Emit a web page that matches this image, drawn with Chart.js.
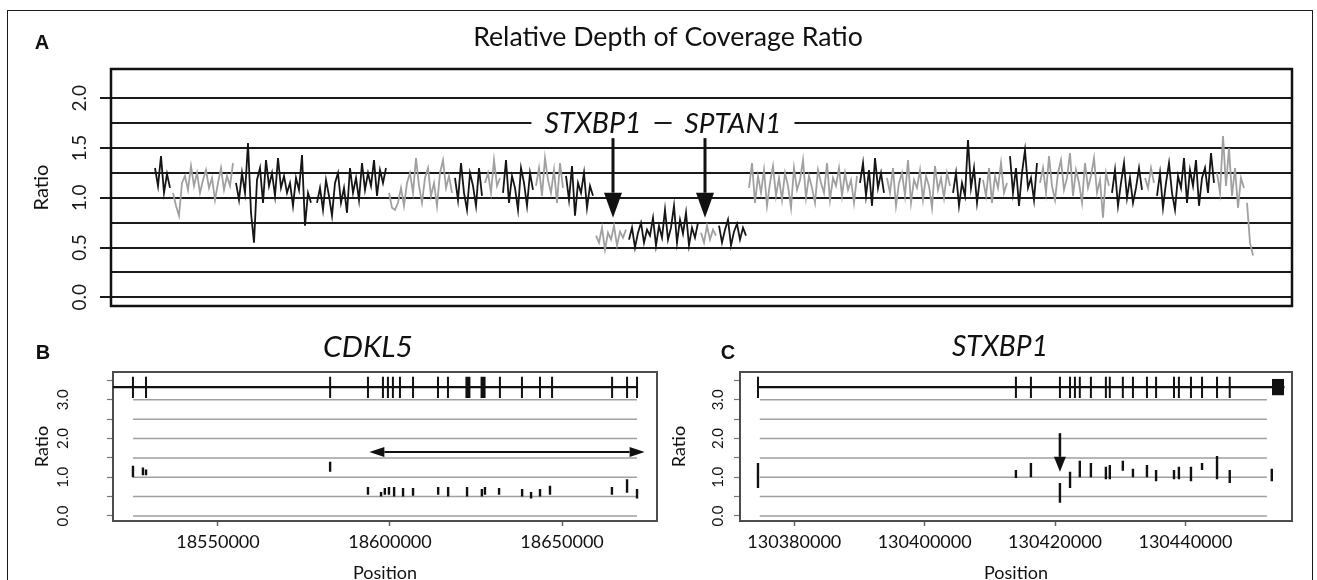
<!DOCTYPE html>
<html><head><meta charset="utf-8">
<script src="https://cdn.jsdelivr.net/npm/chart.js@4.4.1/dist/chart.umd.min.js"></script>
<style>
html,body{margin:0;padding:0;background:#fff;width:1317px;height:580px;overflow:hidden;}
#frame{position:absolute;left:7px;top:10px;width:1306px;height:620px;border:1.5px solid #1a1a1a;box-sizing:border-box;}
canvas{position:absolute;}
#cA{left:0;top:0;}
#cB{left:0;top:310px;}
#cC{left:660px;top:310px;}
</style></head><body>
<div id="frame"></div>
<canvas id="cA" width="1317" height="330"></canvas>
<canvas id="cB" width="680" height="290"></canvas>
<canvas id="cC" width="657" height="290"></canvas>
<script>
// ---------------- Panel A data ----------------
const aTitle = 'Relative Depth of Coverage Ratio';
const aStep = 3;                       // probe spacing (index units)
const aSegStart = [44,62,125,206,278,344,374,392,425,455,485,518,590,608,638,749,776,842,872,899,929,1001,1034,1046,1106,1136];
const aSegGroup = [1,0,1,1,0,1,0,1,0,1,0,1,0,1,0,1,0,1,0,1,0,1,0,1,0,0];
const aSegRatios = [
 [1.30,1.12,1.42,1.05,1.24,1.10],
 [1.05,0.92,0.82,1.15,1.22,1.08,1.32,1.12,1.25,1.05,1.18,1.28,1.10,1.20,0.98,1.15,1.30,1.08,1.22,1.12,1.35],
 [1.15,0.98,1.25,1.05,1.55,0.85,0.55,1.18,1.30,0.95,1.38,1.12,1.25,1.02,1.40,1.10,1.22,1.05,1.15,0.92,1.20,1.08,1.43,0.72,1.05,0.95],
 [0.95,1.10,0.88,1.18,1.02,0.82,1.15,1.25,0.95,1.10,0.85,1.30,1.05,1.20,0.98,1.35,1.08,1.25,1.12,1.38,1.02,1.28,1.15,1.30],
 [1.05,0.90,0.88,0.95,1.10,0.92,1.15,1.25,1.05,1.40,1.12,0.95,1.20,1.30,1.02,1.15,0.92,1.25,1.38,1.10,1.22,1.05],
 [1.20,0.98,1.35,1.05,0.88,1.25,1.12,0.92,1.30,1.02],
 [1.15,1.25,1.05,1.38,1.12,1.20],
 [1.05,1.38,0.95,1.22,1.10,0.88,1.30,1.15,0.92,1.25,1.08],
 [1.12,1.30,1.02,1.40,1.18,1.05,1.28,0.95,1.35,1.10],
 [1.22,0.98,1.32,0.82,1.15,1.05,1.25,0.90,1.12,1.02],
 [0.62,0.55,0.70,0.48,0.65,0.58,0.72,0.52,0.66,0.60,0.68],
 [0.58,0.70,0.50,0.65,0.75,0.55,0.68,0.62,0.80,0.52,0.72,0.60,0.88,0.58,0.70,0.92,0.55,0.78,0.64,0.85,0.52,0.70,0.60,0.75],
 [0.65,0.55,0.72,0.58,0.68,0.62],
 [0.72,0.55,0.68,0.78,0.52,0.66,0.74,0.58,0.70,0.62],
 [1.10,1.35,0.95,1.22,1.05,1.28,0.92,1.15,1.32,1.02,1.20,0.98,1.25,1.12,0.90,1.30,1.08,1.18,1.38,1.00,1.22,1.10,0.95,1.28,1.15,1.05,1.35,0.98,1.20,1.12,1.30,1.02,1.25,1.08,1.18,0.95,1.22],
 [1.15,1.35,1.02,1.28,0.92,1.40,1.10,1.25,1.05],
 [1.20,1.05,1.30,0.92,1.15,1.25,1.02,1.38,0.95,1.18,1.10,1.28,0.98,1.22,1.12,0.90,1.32,1.08,1.20,1.00,1.25,1.12],
 [1.05,1.25,0.92,1.15,1.02,1.58,1.10,1.30,0.95,1.20],
 [1.18,1.02,1.30,0.95,1.22,1.10,1.35,1.05,1.15],
 [1.42,1.05,1.30,0.92,1.25,1.48,1.10,1.20,0.98,1.35],
 [1.15,1.30,1.05,1.42,1.12,0.98,1.25,1.38,1.08,1.20,1.45,1.02,1.28,1.15,0.95,1.35,1.10,1.22,1.40,1.05,1.18,0.80,1.25,1.12],
 [1.05,1.28,0.92,1.15,1.35,1.00,1.20,0.95,1.10,1.30,1.08],
 [1.20,1.10,1.30,1.15],
 [1.02,1.25,0.90,1.15,1.35,1.05,0.88,1.22,1.10,1.40,0.95,1.28,1.12,1.38,0.92,1.20,1.30,1.05,1.45,1.15],
 [1.25,1.05,1.62,1.12,1.50,1.02,1.30,0.90,1.20,1.10],
 [0.95,0.55,0.42]
];
const aTicksY = [0,0.25,0.5,0.75,1,1.25,1.5,1.75,2];
const aGeneNames = ['STXBP1','SPTAN1'];
const aGeneLabelPos = [482, 622];
const aGeneLabelRatio = 1.75;
const aArrowPos = [502, 594];
const aArrowFrom = 1.6, aArrowTo = 0.8;

// ---------------- Panel B data (CDKL5) ----------------
const bTitle = 'CDKL5';
const bTicksX = [18550000,18600000,18650000];
const bTicksY = [0,0.5,1,1.5,2,2.5,3,3.5];
const bGridLevels = [0,0.5,1,1.5,2,2.5,3];
const cdklGeneStart = 18519500, cdklGeneEnd = 18672000;
const cdklDataStart = 18525300, cdklDataEnd = 18671800;
const cdklExons = [18525300,18529100,18582600,18593600,18597950,18599400,18600850,18602900,18606700,18613950,18616850,18631950,18638350,18643600,18647100,18664550,18668900,18671800];
const cdklWideExons = [18622650,18627050];
const cdklMarkPos = [18525300,18528200,18529100,18582600,18593600,18597400,18598500,18599700,18601200,18603800,18606700,18614000,18616900,18622400,18626700,18627600,18631700,18638400,18641000,18643600,18646500,18664500,18668900,18671800];
const cdklMarkLo  = [1.00,1.05,1.05,1.14,0.55,0.50,0.55,0.55,0.50,0.50,0.52,0.55,0.50,0.50,0.50,0.55,0.55,0.50,0.45,0.50,0.55,0.55,0.60,0.45];
const cdklMarkHi  = [1.30,1.25,1.20,1.40,0.75,0.62,0.72,0.75,0.75,0.72,0.72,0.75,0.75,0.75,0.70,0.75,0.72,0.70,0.62,0.70,0.78,0.75,0.95,0.70];
const cdklSpanFrom = 18594000, cdklSpanTo = 18674000, cdklSpanRatio = 1.65;

// ---------------- Panel C data (STXBP1) ----------------
const cTitle = 'STXBP1';
const cTicksX = [130380000,130400000,130420000,130440000];
const cTicksY = [0,0.5,1,1.5,2,2.5,3,3.5];
const cGridLevels = [0,0.5,1,1.5,2,2.5,3];
const stxGeneStart = 130374430, stxGeneEnd = 130455200;
const stxDataStart = 130374700, stxDataEnd = 130452500;
const stxExons = [130374430,130414000,130416300,130420750,130422300,130423050,130423800,130425500,130427800,130428400,130430400,130431950,130434100,130435500,130438250,130439000,130440850,130442550,130444850,130446800];
const stxUtrExon = [130454200];
const stxMarkPos = [130374430,130414000,130416300,130420750,130422300,130423800,130425500,130427800,130428400,130430400,130431950,130434100,130435500,130438250,130439000,130440850,130442550,130444850,130446800,130453250];
const stxMarkLo  = [0.72,0.98,1.00,0.34,0.72,1.00,1.00,0.95,0.95,1.17,1.00,1.00,0.90,0.95,0.95,0.90,1.19,0.95,0.85,0.90];
const stxMarkHi  = [1.37,1.19,1.37,0.85,1.14,1.43,1.37,1.27,1.32,1.43,1.22,1.32,1.19,1.19,1.27,1.27,1.37,1.55,1.19,1.22];
const stxArrowPos = 130420750, stxArrowFrom = 2.14, stxArrowTo = 1.14;

// gene-track drawing levels (ratio units)
const trackRatio = 3.33, exonLo = 3.05, exonHi = 3.6, utrLo = 3.12, utrHi = 3.54;

// ---------------- helpers ----------------
Chart.defaults.font.family = "Lato, 'DejaVu Sans', sans-serif";
Chart.defaults.color = '#111';
const INK = '#111';

function segData(pos, lo, hi){
  const d = [];
  pos.forEach((p,i)=>{ d.push({x:p,y:lo[i]},{x:p,y:hi[i]},{x:p,y:null}); });
  return d;
}
function hLines(levels, x0, x1){
  const d = [];
  levels.forEach(l=>{ d.push({x:x0,y:l},{x:x1,y:l},{x:x1,y:null}); });
  return d;
}
function fitFont(ctx, text, style, width, guess, fam){
  fam = fam || 'Lato';
  ctx.font = style + ' ' + guess + 'px ' + fam;
  const w = ctx.measureText(text).width;
  return style + ' ' + (guess*width/w).toFixed(1) + 'px ' + fam;
}
function drawArrow(ctx,x1,y1,x2,y2,hl,hw,lw){
  const ang = Math.atan2(y2-y1,x2-x1);
  const bx = x2 - hl*Math.cos(ang), by = y2 - hl*Math.sin(ang);
  ctx.strokeStyle = INK; ctx.lineWidth = lw; ctx.lineCap = 'butt';
  ctx.beginPath(); ctx.moveTo(x1,y1); ctx.lineTo(bx,by); ctx.stroke();
  ctx.fillStyle = INK; ctx.beginPath(); ctx.moveTo(x2,y2);
  ctx.lineTo(bx + hw*Math.sin(ang), by - hw*Math.cos(ang));
  ctx.lineTo(bx - hw*Math.sin(ang), by + hw*Math.cos(ang));
  ctx.closePath(); ctx.fill();
}
function framePlugin(color, width){
  return { id:'frame', beforeDatasetsDraw(chart){
    const a = chart.chartArea, ctx = chart.ctx;
    ctx.save(); ctx.strokeStyle = color; ctx.lineWidth = width;
    ctx.strokeRect(a.left, a.top, a.right-a.left, a.bottom-a.top); ctx.restore();
  }};
}
const isHalf = v => Math.abs(v*2 - Math.round(v*2)) < 1e-9;
const isInt = v => Math.abs(v - Math.round(v)) < 1e-9;
const baseOpts = { responsive:false, animation:false, events:[], plugins:{legend:{display:false}, tooltip:{enabled:false}} };

// ---------------- Chart A ----------------
const aDatasets = aSegStart.map((s,i)=>({
  type:'line',
  data: aSegRatios[i].map((r,k)=>({x: s + k*aStep, y: r})),
  borderColor: aSegGroup[i] ? '#151515' : '#a0a0a0',
  borderWidth: 1.8, pointRadius: 0, tension: 0, fill: false
}));
new Chart(document.getElementById('cA'), {
  type:'line',
  data:{datasets:aDatasets},
  options:Object.assign({}, baseOpts, {
    layout:{padding:{left:0,right:25,top:69,bottom:24}},
    scales:{
      x:{type:'linear', min:0, max:1181, display:false},
      y:{type:'linear', min:-0.087, max:2.295,
         afterBuildTicks: s => { s.ticks = aTicksY.map(v=>({value:v})); },
         afterFit: s => { s.width = 111; },
         ticks:{autoSkip:false, minRotation:90, maxRotation:90, crossAlign:'center', padding:6.5,
                font:{size:19}, color:'#1a1a1a', callback: v => isHalf(v) ? v.toFixed(1) : ''},
         grid:{color:'#1a1a1a', lineWidth:2, tickLength:11, tickWidth:2,
               tickColor: c => (c.tick && isHalf(c.tick.value)) ? '#1a1a1a' : 'rgba(0,0,0,0)'},
         border:{display:false},
         title:{display:true, text:'Ratio', font:{size:20}, color:INK, padding:{top:30,bottom:0}}
      }
    }
  }),
  plugins:[framePlugin('#111',2.5), {
    id:'aDeco',
    afterDatasetsDraw(chart){
      const {ctx, scales:{x,y}} = chart;
      ctx.save();
      ctx.textAlign='center'; ctx.textBaseline='middle'; ctx.fillStyle=INK;
      ctx.font = 'bold 20px "Liberation Sans", Arial, sans-serif';
      ctx.fillText('A', 42, 43);
      ctx.font = fitFont(ctx, aTitle, '', 390, 24);
      ctx.fillText(aTitle, 668, 37);
      aGeneNames.forEach((g,i)=>{
        ctx.font = fitFont(ctx, g, 'italic', 97, 28);
        const px = x.getPixelForValue(aGeneLabelPos[i]);
        const py = y.getPixelForValue(aGeneLabelRatio);
        const w = ctx.measureText(g).width;
        ctx.fillStyle='#fff'; ctx.fillRect(px - w/2 - 13, py - 5, w + 26, 10);
        ctx.fillStyle=INK; ctx.fillText(g, px, py + 1);
      });
      aArrowPos.forEach(p=>{
        const px = x.getPixelForValue(p);
        drawArrow(ctx, px, y.getPixelForValue(aArrowFrom), px, y.getPixelForValue(aArrowTo), 25, 9, 3);
      });
      ctx.restore();
    }
  }]
});

// ---------------- Gene panels (B, C) ----------------
function genePanel(id, cfg){
  const datasets = [
    {data: segData(cfg.marks[0], cfg.marks[1], cfg.marks[2]), borderColor:INK, borderWidth:2.4},
    {data: segData(cfg.exons, cfg.exons.map(()=>exonLo), cfg.exons.map(()=>exonHi)), borderColor:INK, borderWidth:2},
    {data: segData(cfg.wide, cfg.wide.map(()=>cfg.wideLo), cfg.wide.map(()=>cfg.wideHi)), borderColor:INK, borderWidth:cfg.wideW},
    {data: [{x:cfg.gene[0],y:trackRatio},{x:cfg.gene[1],y:trackRatio}], borderColor:INK, borderWidth:2.2},
    {data: hLines(cfg.grid, cfg.dataSpan[0], cfg.dataSpan[1]), borderColor:'#a0a0a0', borderWidth:1.5}
  ].map(d=>Object.assign({type:'line', pointRadius:0, tension:0, fill:false, spanGaps:false}, d));
  return new Chart(document.getElementById(id), {
    type:'line',
    data:{datasets},
    options:Object.assign({}, baseOpts, {
      layout:{padding:{left:0,right:cfg.padRight,top:62,bottom:0}},
      scales:{
        x:{type:'linear', min:cfg.xmin, max:cfg.xmax,
           afterBuildTicks: s => { s.ticks = cfg.ticksX.map(v=>({value:v})); },
           afterFit: s => { s.height = 79; },
           ticks:{autoSkip:false, maxRotation:0, minRotation:0, padding:5, font:{size:18}, color:INK, callback: v => String(v)},
           grid:{drawOnChartArea:false, tickLength:5, tickColor:'#666', tickWidth:1.5},
           border:{display:false},
           title:{display:true, text:'Position', font:{size:18}, color:INK, padding:{top:0,bottom:16.2}}
        },
        y:{type:'linear', min:-0.13, max:3.72,
           afterBuildTicks: s => { s.ticks = cfg.ticksY.map(v=>({value:v})); },
           afterFit: s => { s.width = cfg.yWidth; },
           ticks:{autoSkip:false, minRotation:90, maxRotation:90, crossAlign:'center', padding:cfg.tickPad,
                  font:{size:15}, color:INK, callback: v => isInt(v) ? v.toFixed(1) : ''},
           grid:{drawOnChartArea:false, tickLength:6, tickColor:'#777', tickWidth:1.2},
           border:{display:false},
           title:{display:true, text:'Ratio', font:{size:18}, color:INK, padding:{top:cfg.titlePad,bottom:0}}
        }
      }
    }),
    plugins:[framePlugin('#4d4d4d',2), {
      id:'deco',
      afterDatasetsDraw(chart){
        const {ctx, scales:{x,y}} = chart;
        ctx.save();
        ctx.textAlign='center'; ctx.textBaseline='middle'; ctx.fillStyle=INK;
        ctx.font = 'bold 20px "Liberation Sans", Arial, sans-serif';
        ctx.fillText(cfg.letter, cfg.letterXY[0], cfg.letterXY[1]);
        ctx.font = fitFont(ctx, cfg.title, 'italic', cfg.titleW, 27);
        ctx.fillText(cfg.title, cfg.titleXY[0], cfg.titleXY[1]);
        cfg.drawArrows(ctx, x, y);
        ctx.restore();
      }
    }]
  });
}

genePanel('cB', {
  letter:'B', letterXY:[43,43], title:bTitle, titleW:90, titleXY:[368,37],
  padRight:23, yWidth:113, tickPad:33.4, titlePad:31.2,
  xmin:18519500, xmax:18677600, ticksX:bTicksX, ticksY:bTicksY,
  grid:bGridLevels, dataSpan:[cdklDataStart, cdklDataEnd], gene:[cdklGeneStart, cdklGeneEnd],
  exons:cdklExons, wide:cdklWideExons, wideLo:exonLo, wideHi:exonHi, wideW:5,
  marks:[cdklMarkPos, cdklMarkLo, cdklMarkHi],
  drawArrows(ctx, x, y){
    const x1 = x.getPixelForValue(cdklSpanFrom), x2 = x.getPixelForValue(cdklSpanTo), py = y.getPixelForValue(cdklSpanRatio);
    const mid = (x1+x2)/2;
    drawArrow(ctx, mid, py, x1, py, 15, 5, 2);
    drawArrow(ctx, mid, py, x2, py, 15, 5, 2);
  }
});
genePanel('cC', {
  letter:'C', letterXY:[68,43], title:cTitle, titleW:96, titleXY:[340,37],
  padRight:25, yWidth:80, tickPad:5.4, titlePad:8.2,
  xmin:130371672, xmax:130456350, ticksX:cTicksX, ticksY:cTicksY,
  grid:cGridLevels, dataSpan:[stxDataStart, stxDataEnd], gene:[stxGeneStart, stxGeneEnd],
  exons:stxExons, wide:stxUtrExon, wideLo:utrLo, wideHi:utrHi, wideW:12,
  marks:[stxMarkPos, stxMarkLo, stxMarkHi],
  drawArrows(ctx, x, y){
    const px = x.getPixelForValue(stxArrowPos);
    drawArrow(ctx, px, y.getPixelForValue(stxArrowFrom), px, y.getPixelForValue(stxArrowTo), 15, 6, 2.5);
  }
});
</script>
</body></html>
